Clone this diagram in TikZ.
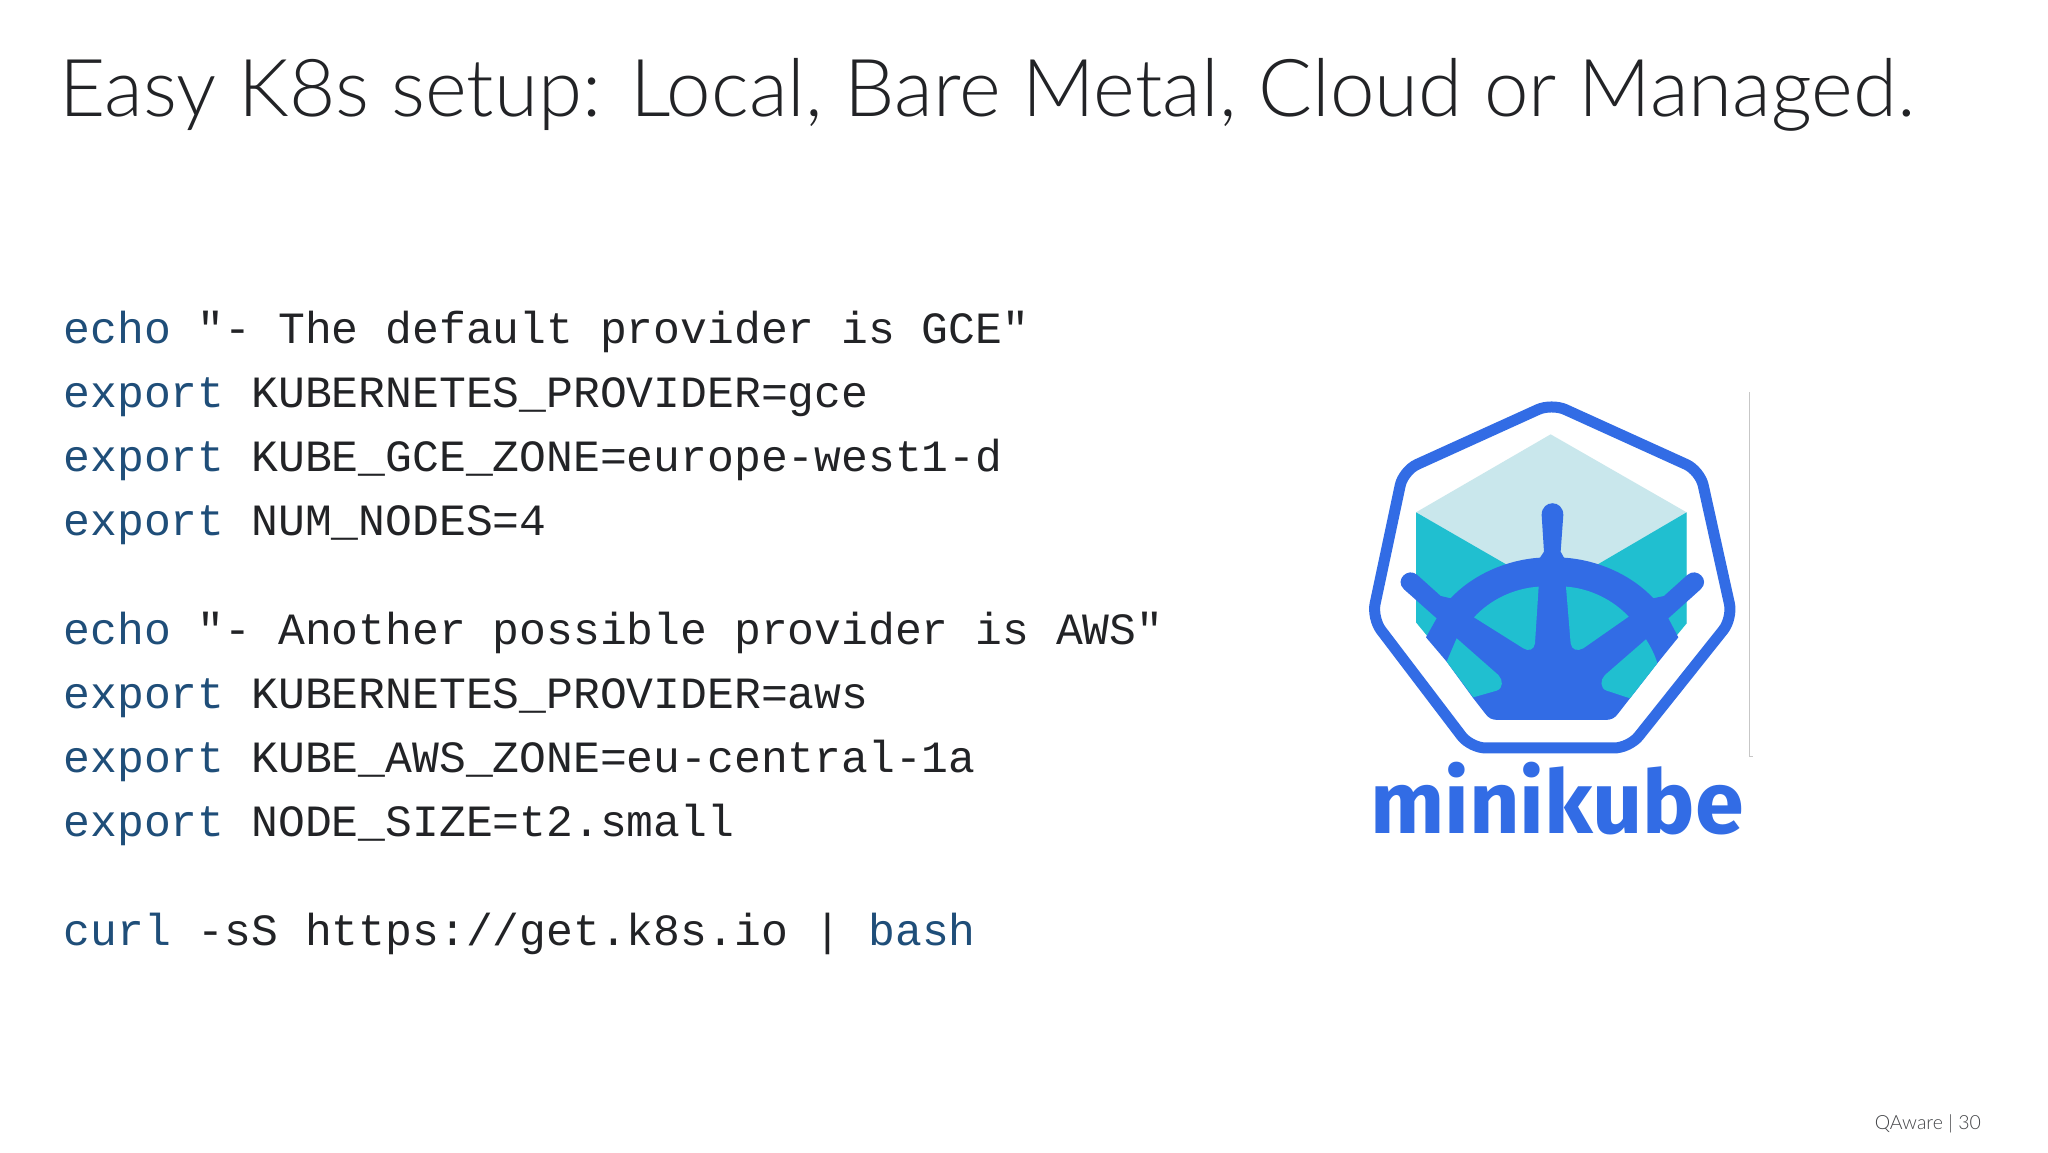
\documentclass[tikz,border=0pt]{standalone}
\usepackage{fontspec}
\usepackage{xcolor}
\setmainfont{Lato Light}
\newfontfamily\codefont{Liberation Mono}
\newfontfamily\logofont{Fira Sans}[BoldFont={Fira Sans Bold}]
\definecolor{inktext}{HTML}{222326}
\definecolor{kwblue}{HTML}{1F4E79}
\definecolor{kubeblue}{HTML}{326CE5}
\definecolor{cubeteal}{HTML}{20BFD0}
\definecolor{cubelight}{HTML}{C9E7EC}
\newcommand{\kw}[1]{\textcolor{kwblue}{#1}}
\tikzset{
	codeline/.style={anchor=base west, inner sep=0pt, text=inktext, font=\codefont\fontsize{44.7}{54}\selectfont},
	titleline/.style={anchor=base west, inner sep=0pt, text=inktext, font=\fontsize{79.9}{90}\selectfont},
	footline/.style={anchor=base east, inner sep=0pt, text=inktext!85, font=\fontsize{19.5}{22}\selectfont},
	logoline/.style={anchor=base, inner sep=0pt, text=kubeblue, font=\logofont\bfseries\fontsize{88}{90}\selectfont}
}
\begin{document}
\begin{tikzpicture}[x=1pt, y=-1pt]
	\def \xcode{63.5};
	\useasboundingbox (0, 0) rectangle (2048, 1152);
	\fill[white] (0, 0) rectangle (2048, 1152);
	% heading and page mark
	\node[titleline] (title) at (59, 116) {Easy K8s setup: Local, Bare Metal, Cloud or Managed.};
	\node[footline] (pagemark) at (1981, 1129) {QAware | 30};
	% shell listing
	\node[codeline] (gce1) at (\xcode, 343) {\kw{echo} "- The default provider is GCE"};
	\node[codeline] (gce2) at (\xcode, 407) {\kw{export} KUBERNETES\_PROVIDER=gce};
	\node[codeline] (gce3) at (\xcode, 471) {\kw{export} KUBE\_GCE\_ZONE=europe-west1-d};
	\node[codeline] (gce4) at (\xcode, 535) {\kw{export} NUM\_NODES=4};
	\node[codeline] (aws1) at (\xcode, 644) {\kw{echo} "- Another possible provider is AWS"};
	\node[codeline] (aws2) at (\xcode, 708) {\kw{export} KUBERNETES\_PROVIDER=aws};
	\node[codeline] (aws3) at (\xcode, 772) {\kw{export} KUBE\_AWS\_ZONE=eu-central-1a};
	\node[codeline] (aws4) at (\xcode, 836) {\kw{export} NODE\_SIZE=t2.small};
	\node[codeline] (curl) at (\xcode, 945) {\kw{curl} -sS https://get.k8s.io | \kw{bash}};
	% logo, in the units of a 3x crop
	\begin{scope}[shift={(1340, 380)}, x=0.3333pt, y=-0.3333pt]
		\draw[black!22, line width=1pt] (1228, 36) -- (1228, 1130) -- (1240, 1130);
		\fill[cubelight] (632, 163) -- (1040, 397) -- (1040, 730) -- (800, 1020) -- (470, 1020) -- (228, 727) -- (228, 397) -- cycle;
		\fill[cubeteal] (228, 397) -- (637, 633) -- (1040, 397) -- (1040, 730) -- (800, 1020) -- (470, 1020) -- (228, 727) -- cycle;
		\draw[kubeblue, line width=11pt, rounded corners=15pt, line join=round] (635, 70) -- (1080, 272) -- (1178, 715) -- (868, 1104) -- (392, 1104) -- (96, 715) -- (190, 272) -- cycle;
		\fill[kubeblue] (605, 405) .. controls (605, 358) and (670, 358) .. (670, 405)
			-- (662, 515) -- (672, 533)
			.. controls (780, 540) and (880, 590) .. (940, 655)
			-- (972, 648) -- (1042, 585)
			.. controls (1070, 560) and (1112, 600) .. (1082, 628)
			-- (985, 715) -- (1015, 772) -- (952, 850) -- (870, 955) -- (835, 1000)
			.. controls (825, 1014) and (815, 1020) .. (795, 1020)
			-- (475, 1020)
			.. controls (455, 1020) and (445, 1014) .. (435, 1000)
			-- (400, 955) -- (320, 845) -- (258, 772) -- (290, 715)
			-- (192, 628)
			.. controls (162, 600) and (204, 560) .. (232, 585)
			-- (302, 648) -- (332, 655)
			.. controls (392, 590) and (492, 540) .. (600, 533)
			-- (612, 515) -- cycle;
		\fill[cubeteal] (402, 712) .. controls (450, 660) and (520, 625) .. (596, 620) -- (585, 790) .. controls (583, 810) and (565, 815) .. (550, 805) -- cycle;
		\fill[cubeteal] (678, 620) .. controls (750, 625) and (820, 660) .. (866, 710) -- (730, 805) .. controls (712, 815) and (695, 810) .. (692, 790) -- cycle;
		\fill[cubeteal] (350, 775) -- (475, 885) .. controls (490, 900) and (490, 925) .. (470, 932) -- (400, 952) -- (320, 845) -- cycle;
		\fill[cubeteal] (918, 778) -- (795, 885) .. controls (780, 900) and (780, 925) .. (800, 932) -- (870, 955) -- (952, 850) .. controls (945, 825) and (932, 800) .. (918, 778) -- cycle;
	\end{scope}
	\node[logoline] (logotext) at (1557, 833) {minikube};
\end{tikzpicture}
\end{document}
